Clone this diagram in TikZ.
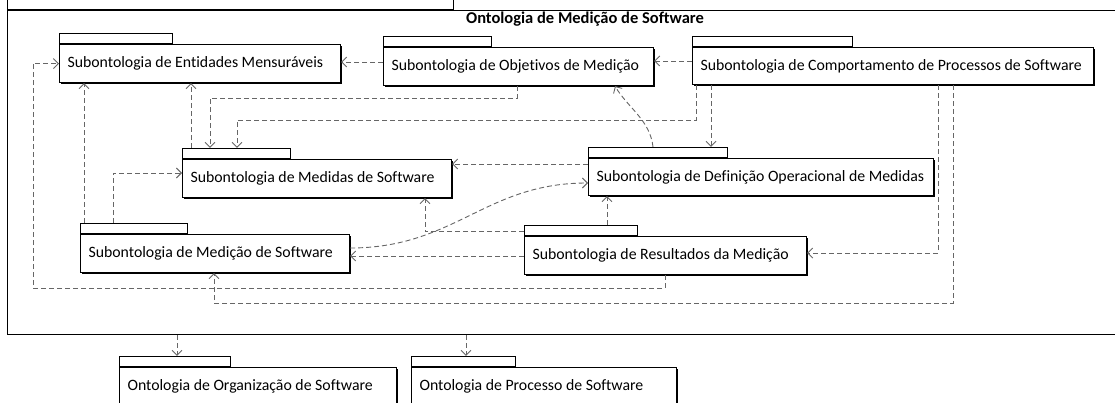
\documentclass[tikz,border=0pt]{standalone}
\usepackage{fontspec}
\setmainfont{Carlito}[Ligatures=CommonOff]
\usetikzlibrary{arrows.meta,calc,shadows}
\newcommand\pktext[2]{\makebox[#1pt][l]{#2}}
\begin{document}
\begin{tikzpicture}[x=1pt,y=-1pt,
  pkg/.style={draw, fill=white, line width=1.1pt, anchor=north west, inner xsep=8pt, inner ysep=0pt,
    minimum height=38pt, font=\fontsize{15.8}{18}\selectfont,
    drop shadow={shadow xshift=1pt, shadow yshift=-1pt, fill=black, opacity=1}},
  pkgtab/.style={draw, fill=white, line width=1.1pt, anchor=south west, minimum height=10pt, inner sep=0pt},
  dep/.style={draw=black!60, line width=0.9pt, dash pattern=on 5pt off 3pt,
    -{Straight Barb[length=5pt,width=10pt]}},
]
\path[use as bounding box] (0,0) rectangle (1115,403);
\clip (0,0) rectangle (1115,403);

% outer package
\node[draw, line width=1.4pt, anchor=north west, minimum width=1125pt, minimum height=324pt, inner sep=0pt] (OMS) at (7,10) {};
\node[pkgtab, line width=1.4pt, minimum width=446pt, minimum height=30pt] (OMSt) at (OMS.north west) {};
\node[font=\bfseries\fontsize{16.5}{19}\selectfont] (title) at (585,19) {Ontologia de Medição de Software};

% packages
\node[pkg] (EM) at (59,44) {\pktext{265}{Subontologia de Entidades Mensuráveis}};
\node[pkgtab, minimum width=113pt] (EMt) at (EM.north west) {};
\node[pkg] (OM) at (383,47) {\pktext{254}{Subontologia de Objetivos de Medição}};
\node[pkgtab, minimum width=108pt] (OMt) at (OM.north west) {};
\node[pkg, minimum height=37pt] (CP) at (692,47) {\pktext{385}{Subontologia de Comportamento de Processos de Software}};
\node[pkgtab, minimum width=160pt] (CPt) at (CP.north west) {};
\node[pkg] (MS) at (182,159) {\pktext{253}{Subontologia de Medidas de Software}};
\node[pkgtab, minimum width=108pt] (MSt) at (MS.north west) {};
\node[pkg, minimum height=37pt] (DOM) at (588,158) {\pktext{329}{Subontologia de Definição Operacional de Medidas}};
\node[pkgtab, minimum width=139pt] (DOMt) at (DOM.north west) {};
\node[pkg] (MedS) at (80,234) {\pktext{253}{Subontologia de Medição de Software}};
\node[pkgtab, minimum width=107pt] (MedSt) at (MedS.north west) {};
\node[pkg] (RM) at (524,236) {\pktext{266}{Subontologia de Resultados da Medição}};
\node[pkgtab, minimum width=113pt] (RMt) at (RM.north west) {};
\node[pkg] (OS) at (119,367) {\pktext{261}{Ontologia de Organização de Software}};
\node[pkgtab, minimum width=111pt] (OSt) at (OS.north west) {};
\node[pkg] (PS) at (411,367) {\pktext{249}{Ontologia de Processo de Software}};
\node[pkgtab, minimum width=104pt] (PSt) at (PS.north west) {};

% dependencies
\draw[dep] ($(RM.south west)+(141,0)$) -- ++(0,13) -- ++(-632,0) |- (EM.west);
\draw[dep] ($(MedSt.north west)+(4,0)$) -- ($(EM.south west)+(25,0)$);
\draw[dep] ($(MSt.north west)+(9,0)$) -- ($(EM.south west)+(132,0)$);
\draw[dep] ($(OM.south west)+(134,0)$) -- ++(0,12) -| ($(MSt.north west)+(28,0)$);
\draw[dep] ($(CP.south west)+(4,0)$) -- ++(0,35) -| ($(MSt.north west)+(55,0)$);
\draw[dep] ($(CP.south west)+(19,0)$) -- ($(DOMt.north west)+(123,0)$);
\draw[dep] ($(CP.north west)+(0,14)$) -- ($(OM.north east)+(0,14)$);
\draw[dep] ($(OM.north west)+(0,15)$) -- ($(EM.north east)+(0,18)$);
\draw[dep] ($(DOMt.north west)+(65,0)$) .. controls (650,120) and (628,108) .. ($(OM.south west)+(232,0)$);
\draw[dep] ($(DOM.north west)+(0,6)$) -- ($(MS.north east)+(0,5)$);
\draw[dep] ($(MedS.north east)+(0,14)$) .. controls (455,248) and (485,183) .. ($(DOM.north west)+(0,25)$);
\draw[dep] ($(RMt.north west)+(0,7)$) -| ($(MS.south west)+(243,0)$);
\draw[dep] ($(RMt.north west)+(83,0)$) -- ($(DOM.south west)+(19,0)$);
\draw[dep] ($(RM.north west)+(0,20)$) -- ($(MedS.north east)+(0,22)$);
\draw[dep] ($(MedSt.north west)+(33,0)$) |- ($(MS.north west)+(0,14)$);
\draw[dep] ($(CP.south west)+(246,0)$) |- ($(RM.north east)+(0,17)$);
\draw[dep] ($(CP.south west)+(261,0)$) -- ++(0,218) -| ($(MedS.south west)+(134,0)$);
\draw[dep] ($(OMS.south west)+(170,0)$) -- ($(OSt.north west)+(58,0)$);
\draw[dep] ($(OMS.south west)+(459,0)$) -- ($(PSt.north west)+(55,0)$);
\end{tikzpicture}
\end{document}
